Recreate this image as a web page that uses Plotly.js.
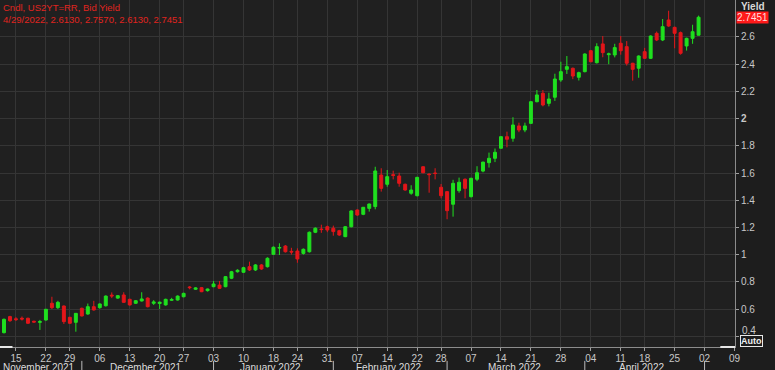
<!DOCTYPE html>
<html>
<head>
<meta charset="utf-8">
<script src="https://cdn.plot.ly/plotly-3.0.1.min.js"></script>
<style>html,body{margin:0;padding:0;background:#1d1d1d;}#chart{width:775px;height:370px;}</style>
</head>
<body>
<div id="chart"></div>
<script>
// Trading days (US2YT=RR daily candles)
const dates = [
'2021-11-10','2021-11-12','2021-11-15','2021-11-16','2021-11-17','2021-11-18','2021-11-19','2021-11-22','2021-11-23','2021-11-24',
'2021-11-26','2021-11-29','2021-11-30','2021-12-01','2021-12-02','2021-12-03','2021-12-06','2021-12-07','2021-12-08','2021-12-09',
'2021-12-10','2021-12-13','2021-12-14','2021-12-15','2021-12-16','2021-12-17','2021-12-20','2021-12-21','2021-12-22','2021-12-23',
'2021-12-27','2021-12-28','2021-12-29','2021-12-30','2021-12-31','2022-01-03','2022-01-04','2022-01-05','2022-01-06','2022-01-07',
'2022-01-10','2022-01-11','2022-01-12','2022-01-13','2022-01-14','2022-01-18','2022-01-19','2022-01-20','2022-01-21','2022-01-24',
'2022-01-25','2022-01-26','2022-01-27','2022-01-28','2022-01-31','2022-02-01','2022-02-02','2022-02-03','2022-02-04','2022-02-07',
'2022-02-08','2022-02-09','2022-02-10','2022-02-11','2022-02-14','2022-02-15','2022-02-16','2022-02-17','2022-02-18','2022-02-22',
'2022-02-23','2022-02-24','2022-02-25','2022-02-28','2022-03-01','2022-03-02','2022-03-03','2022-03-04','2022-03-07','2022-03-08',
'2022-03-09','2022-03-10','2022-03-11','2022-03-14','2022-03-15','2022-03-16','2022-03-17','2022-03-18','2022-03-21','2022-03-22',
'2022-03-23','2022-03-24','2022-03-25','2022-03-28','2022-03-29','2022-03-30','2022-03-31','2022-04-01','2022-04-04','2022-04-05',
'2022-04-06','2022-04-07','2022-04-08','2022-04-11','2022-04-12','2022-04-13','2022-04-14','2022-04-18','2022-04-19','2022-04-20',
'2022-04-21','2022-04-22','2022-04-25','2022-04-26','2022-04-27','2022-04-28','2022-04-29'
];
const open = [
0.426,0.544,0.528,0.532,0.532,0.510,0.502,0.519,0.642,0.610,
0.622,0.539,0.502,0.605,0.563,0.617,0.610,0.624,0.702,0.680,
0.703,0.671,0.642,0.659,0.680,0.642,0.640,0.630,0.664,0.666,
0.690,0.762,0.745,0.757,0.735,0.764,0.776,0.764,0.826,0.874,
0.870,0.911,0.887,0.924,0.911,1.002,1.048,1.063,1.024,1.026,
1.009,1.021,1.164,1.188,1.205,1.194,1.176,1.132,1.205,1.328,
1.296,1.340,1.353,1.585,1.517,1.588,1.578,1.517,1.451,1.433,
1.646,1.592,1.600,1.495,1.463,1.370,1.470,1.554,1.426,1.554,
1.614,1.676,1.708,1.782,1.867,1.855,1.946,1.916,1.965,2.124,
2.186,2.112,2.157,2.284,2.362,2.370,2.304,2.345,2.499,2.411,
2.549,2.470,2.468,2.554,2.529,2.407,2.370,2.492,2.443,2.627,
2.578,2.725,2.671,2.632,2.534,2.590,2.613
];
const high = [
0.530,0.550,0.540,0.545,0.536,0.514,0.520,0.600,0.690,0.660,
0.626,0.542,0.570,0.610,0.640,0.660,0.642,0.700,0.722,0.702,
0.723,0.676,0.666,0.723,0.686,0.665,0.655,0.676,0.682,0.700,
0.720,0.768,0.760,0.762,0.750,0.806,0.806,0.842,0.880,0.892,
0.910,0.948,0.930,0.930,0.980,1.060,1.083,1.070,1.050,1.046,
1.045,1.170,1.200,1.220,1.213,1.213,1.182,1.210,1.325,1.332,
1.350,1.375,1.646,1.635,1.622,1.617,1.602,1.522,1.510,1.572,
1.650,1.598,1.635,1.519,1.468,1.550,1.566,1.560,1.565,1.650,
1.683,1.750,1.780,1.870,1.904,2.010,1.970,1.970,2.128,2.210,
2.210,2.190,2.330,2.418,2.460,2.375,2.345,2.480,2.505,2.554,
2.607,2.485,2.550,2.607,2.570,2.410,2.465,2.520,2.612,2.640,
2.732,2.793,2.676,2.640,2.595,2.690,2.757
];
const low = [
0.420,0.505,0.512,0.515,0.490,0.500,0.446,0.515,0.600,0.600,
0.490,0.490,0.433,0.545,0.558,0.588,0.602,0.618,0.680,0.675,
0.645,0.625,0.638,0.655,0.612,0.630,0.600,0.625,0.660,0.662,
0.686,0.745,0.740,0.724,0.728,0.760,0.748,0.760,0.820,0.868,
0.865,0.880,0.880,0.888,0.905,0.998,0.997,1.015,1.000,0.940,
1.000,1.015,1.158,1.160,1.165,1.139,1.138,1.128,1.200,1.285,
1.290,1.316,1.333,1.463,1.499,1.553,1.499,1.470,1.440,1.428,
1.598,1.455,1.553,1.414,1.260,1.279,1.455,1.414,1.420,1.540,
1.605,1.640,1.680,1.778,1.789,1.830,1.900,1.900,1.960,2.120,
2.090,2.090,2.130,2.270,2.328,2.290,2.280,2.340,2.415,2.405,
2.451,2.400,2.450,2.470,2.390,2.279,2.300,2.440,2.438,2.570,
2.570,2.675,2.517,2.470,2.500,2.550,2.613
];
const close = [
0.524,0.514,0.522,0.526,0.495,0.504,0.507,0.598,0.610,0.649,
0.507,0.495,0.568,0.549,0.617,0.593,0.637,0.695,0.696,0.698,
0.649,0.630,0.661,0.674,0.617,0.652,0.650,0.671,0.670,0.695,
0.715,0.757,0.755,0.727,0.747,0.784,0.752,0.838,0.874,0.885,
0.904,0.887,0.924,0.894,0.973,1.054,1.052,1.021,1.019,0.968,
1.039,1.164,1.194,1.184,1.181,1.169,1.144,1.205,1.321,1.291,
1.348,1.372,1.615,1.487,1.573,1.582,1.524,1.475,1.475,1.568,
1.602,1.588,1.596,1.433,1.323,1.524,1.532,1.487,1.561,1.602,
1.680,1.708,1.752,1.867,1.848,1.953,1.916,1.946,2.124,2.174,
2.100,2.144,2.291,2.345,2.382,2.313,2.338,2.475,2.418,2.529,
2.485,2.476,2.522,2.499,2.407,2.362,2.460,2.443,2.607,2.578,
2.676,2.681,2.627,2.480,2.590,2.639,2.7451
];
const holidays = ['2021-11-11','2021-11-25','2021-12-24','2022-01-17','2022-02-21','2022-04-15'];
const tickDates = ['2021-11-15','2021-11-22','2021-11-29','2021-12-06','2021-12-13','2021-12-20','2021-12-27',
'2022-01-03','2022-01-10','2022-01-18','2022-01-24','2022-01-31','2022-02-07','2022-02-14','2022-02-22','2022-02-28',
'2022-03-07','2022-03-14','2022-03-21','2022-03-28','2022-04-04','2022-04-11','2022-04-18','2022-04-25','2022-05-02','2022-05-09'];
const tickLabels = ['15','22','29','06','13','20','27','03','10','18','24','31','07','14','22','28','07','14','21','28','04','11','18','25','02','09'];
const yTickVals = [0.4,0.6,0.8,1.0,1.2,1.4,1.6,1.8,2.0,2.2,2.4,2.6];
const yTickLabels = ['','0.6','0.8','1','1.2','1.4','1.6','1.8','<b>2</b>','2.2','2.4','2.6'];
const lowestTick = {value:0.4, label:'0.4'};
const monthNames = ['November 2021','December 2021','January 2022','February 2022','March 2022','April 2022'];
const monthCenters = ['2021-11-19 09:30','2021-12-16 05:00','2022-01-14 23:00','2022-02-14 19:00','2022-03-16 17:00','2022-04-14 23:00'];
const monthStarts = ['2021-12-01','2022-01-03','2022-02-01','2022-03-01','2022-04-01','2022-05-02'];
const header = ['Cndl, US2YT=RR, Bid Yield', '4/29/2022, 2.6130, 2.7570, 2.6130, 2.7451'];
const lastValue = 2.7451;

const noon = d => d + ' 12:00';
const GREEN = '#1fe01f', RED = '#e3161a';
const FONT = 'Liberation Sans, Arial, sans-serif';

const trace = {
  type: 'candlestick',
  x: dates.map(noon), open: open, high: high, low: low, close: close,
  increasing: {line: {color: GREEN, width: 1}, fillcolor: GREEN},
  decreasing: {line: {color: RED, width: 1}, fillcolor: RED},
  whiskerwidth: 0, hoverinfo: 'skip', showlegend: false
};

const annotations = [
  {xref:'paper', yref:'paper', x:0, y:1, xanchor:'left', yanchor:'top', xshift:1, yshift:0, align:'left',
   text: header.join('<br>'), showarrow:false, font:{family:FONT, size:9.5, color:'#e0241f'}},
  {xref:'paper', yref:'paper', x:1, y:1, xanchor:'left', yanchor:'top', xshift:4, yshift:1,
   text:'<b>Yield</b>', showarrow:false, font:{family:FONT, size:10, color:'#d8d8d8'}},
  {xref:'paper', yref:'y', x:1, y:lastValue, xanchor:'left', yanchor:'middle', xshift:1, text:String(lastValue.toFixed(4)),
   showarrow:false, bgcolor:'#ff1a1a', borderpad:0, font:{family:FONT, size:10, color:'#ffdede'}},
  {xref:'paper', yref:'paper', x:1, y:0, xanchor:'left', yanchor:'bottom', xshift:5, yshift:0, text:'<b>Auto</b>',
   showarrow:false, bordercolor:'#e8e8e8', borderwidth:1, borderpad:0, font:{family:FONT, size:9, color:'#f0f0f0'}},
  {xref:'paper', yref:'y', x:1, y:lowestTick.value, xanchor:'left', yanchor:'middle', xshift:5, yshift:6,
   text:lowestTick.label, showarrow:false, font:{family:FONT, size:10, color:'#c8c8c8'}}
];
monthNames.forEach((m, i) => annotations.push({
  xref:'x', yref:'paper', x:monthCenters[i], y:0, yanchor:'top', yshift:-14, text:m, showarrow:false,
  borderpad:0, font:{family:FONT, size:10, color:'#dcdcdc'}
}));

const shapes = monthStarts.map(d => ({type:'line', xref:'x', yref:'paper', x0:noon(d), x1:noon(d), y0:-0.04, y1:-0.075,
  line:{color:'#bdbdbd', width:1}}));
shapes.push({type:'line', xref:'paper', yref:'paper', x0:0, x1:0.017, y0:0, y1:0, line:{color:'#e6e6e6', width:2}});
shapes.push({type:'line', xref:'paper', yref:'paper', x0:0.98, x1:1, y0:0, y1:0, line:{color:'#e6e6e6', width:2}});

const layout = {
  width:775, height:370,
  margin:{l:0, r:40, t:0, b:23, pad:0},
  paper_bgcolor:'#1d1d1d', plot_bgcolor:'#202020',
  font:{family:FONT, size:10, color:'#c8c8c8'},
  showlegend:false, hovermode:false, dragmode:false,
  xaxis:{
    type:'date', range:['2021-11-09 20:00','2022-05-09 14:00'],
    rangebreaks:[{bounds:['sat','mon']}, {values:holidays}],
    rangeslider:{visible:false},
    tickmode:'array', tickvals:tickDates.map(noon), ticktext:tickLabels,
    ticks:'outside', ticklen:3, tickcolor:'#a0a0a0', ticklabelstandoff:-1,
    tickfont:{family:FONT, size:10, color:'#c8c8c8'},
    showgrid:true, gridcolor:'#353535', gridwidth:1,
    showline:true, linecolor:'#8c8c8c', linewidth:1, mirror:false, zeroline:false, fixedrange:true
  },
  yaxis:{
    side:'right', range:[0.3206, 2.872],
    tickmode:'array', tickvals:yTickVals, ticktext:yTickLabels,
    ticks:'outside', ticklen:3, tickcolor:'#a0a0a0', tickfont:{family:FONT, size:10, color:'#c8c8c8'},
    showgrid:true, gridcolor:'#353535', gridwidth:1,
    showline:true, linecolor:'#8c8c8c', linewidth:1, zeroline:false, fixedrange:true
  },
  annotations: annotations,
  shapes: shapes
};

Plotly.newPlot('chart', [trace], layout, {displayModeBar:false, staticPlot:true});
</script>
</body>
</html>
